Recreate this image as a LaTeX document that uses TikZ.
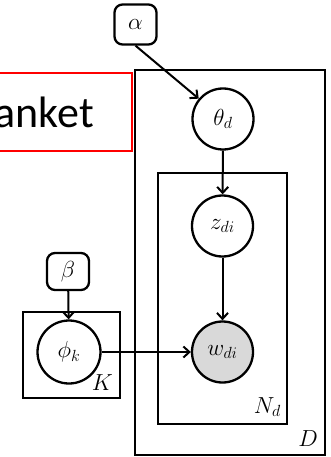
\RequirePackage{fix-cm}
\documentclass[tikz,border=0pt]{standalone}
\usepackage{graphicx}
\usepackage{fontspec}
\newfontfamily\carl{Carlito}
\usetikzlibrary{arrows.meta}
\newcommand\pgmmath[1]{\scalebox{1.12}{$#1$}}
\begin{document}
\begin{tikzpicture}[x=1pt,y=-1pt,
  mathfont/.style={font=\fontsize{20.74}{24}\selectfont},
  var/.style={circle,draw,line width=2.3pt,minimum size=61pt,inner sep=0pt,fill=white,mathfont},
  hyper/.style={draw,rounded corners=8pt,line width=2.3pt,minimum width=42pt,minimum height=40pt,inner sep=0pt,mathfont},
  plate/.style={draw,line width=2.8pt},
  edge/.style={line width=2pt,-{Straight Barb[length=6pt,width=11pt]}},
  platelabel/.style={mathfont,anchor=base east,inner sep=0pt}]
\useasboundingbox (0,0) rectangle (331,457);
% red box with clipped text
\draw[red,line width=1.3pt] (-8,73) rectangle (132,151);
\node[font=\carl\fontsize{44}{50}\selectfont,anchor=base east,inner sep=0pt] (blanket) at (94,128) {anket};
% plates
\draw[plate] (135,70) rectangle (325,455);
\draw[plate] (158,173) rectangle (287,424);
\draw[plate] (23,312) rectangle (120,398);
\node[platelabel] (lK) at (113,390) {\pgmmath{K}};
\node[platelabel] (lN) at (281,413) {\pgmmath{N_d}};
\node[platelabel] (lD) at (318,446) {\pgmmath{D}};
% nodes
\node[hyper] (alpha) at (135.5,24.5) {\pgmmath{\alpha}};
\node[var] (theta) at (223,119) {\pgmmath{\theta_d}};
\node[var] (z) at (222.5,226) {\pgmmath{z_{di}}};
\node[var,fill=gray!30] (w) at (222.5,352) {\pgmmath{w_{di}}};
\node[hyper,minimum height=37pt] (beta) at (68,271.5) {\pgmmath{\beta}};
\node[var,minimum size=63pt] (phi) at (69,352) {\pgmmath{\phi_k}};
% edges
\draw[edge] (alpha.south) -- (theta);
\draw[edge] (theta) -- (z);
\draw[edge] (z) -- (w);
\draw[edge] (beta) -- (phi);
\draw[edge] (phi) -- (w);
\end{tikzpicture}
\end{document}
